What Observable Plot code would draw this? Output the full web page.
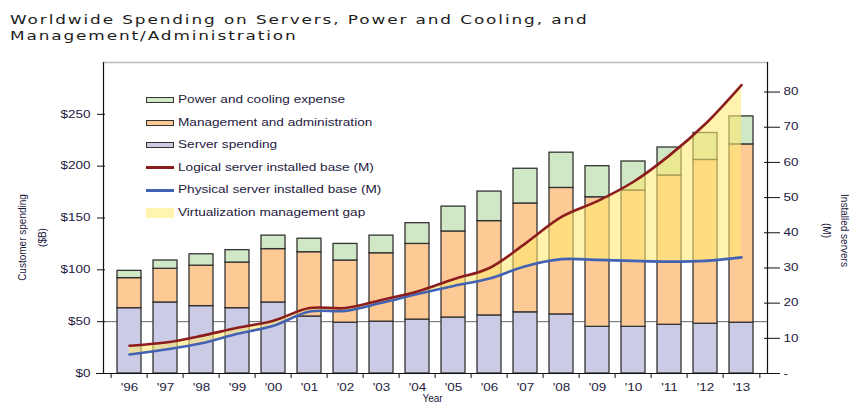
<!DOCTYPE html>
<html><head><meta charset="utf-8">
<script src="https://cdn.jsdelivr.net/npm/d3@7"></script>
<script src="https://cdn.jsdelivr.net/npm/@observablehq/plot@0.6"></script>
<style>
body{margin:0;background:#fff;width:851px;height:405px;overflow:hidden;position:relative;font-family:"Liberation Sans",Arial,sans-serif}
#title{position:absolute;left:10px;top:12px;font-family:"DejaVu Sans";font-size:12.5px;letter-spacing:1.4px;line-height:16px;color:#1c1c1c;transform:scaleX(1.35);transform-origin:0 0;white-space:nowrap}
#chart{position:absolute;left:0;top:50px}
#legend{position:absolute;left:146px;top:0;width:300px;height:240px}
.row{position:absolute;left:0;height:12px;width:300px}
.sw{position:absolute;left:0;box-sizing:border-box}
.lbl{position:absolute;left:32px;top:0;line-height:12px;font-size:10px;color:#1e2040;transform:scaleX(1.36);transform-origin:0 50%;white-space:nowrap}
</style>
</head><body>
<div id="title"></div>
<div id="chart"></div>
<div id="legend"></div>
<script>
const titleLines = ["Worldwide Spending on Servers, Power and Cooling, and", "Management/Administration"];
const years = ["'96","'97","'98","'99","'00","'01","'02","'03","'04","'05","'06","'07","'08","'09","'10","'11","'12","'13"];
const serverSpending = [63,68.5,65,63,68.5,55,49,50,52,54,56,59,57,45,45,47,48,49];
const mgmtAdmin      = [29,32.5,39,44,51.5,62,60,66,73,83,91,105,122,125,131.5,144,158,172];
const powerCooling   = [7,8,11,12,13,13,16,17,20,24,28.5,33.5,34,30,28,27,26,27];
const logicalBase    = [7.9,8.8,10.7,13,15,18.6,18.6,20.9,23.3,26.8,30,37,44.5,49,54.5,62,71,82];
const physicalBase   = [5.4,6.8,8.6,11.3,13.6,17.6,17.8,20.1,22.6,24.9,27,30.5,32.5,32.3,32,31.8,32,33];
const leftTicks = [0,50,100,150,200,250];
const rightTicks = [0,10,20,30,40,50,60,70,80];
const barCats = ["Server spending","Management and administration","Power and cooling expense"];
const barColors = ["#cbcbe6","#fdca96","#d0e8c6"];
const yMax = 300, rightMax = 88.4;
const k = yMax / rightMax;

document.getElementById("title").innerHTML = titleLines.join("<br>");

const W = 851, H = 355, mT = 12, mB = 32, mL = 103, mR = 84;
const pIn = 0.32, pOut = 0.19;
const band = d3.scaleBand().domain(years).range([mL, W - mR]).paddingInner(pIn).paddingOuter(pOut);
const step = band.step();

const bars = years.flatMap((yr, i) => [
  {year: yr, cat: barCats[0], v: serverSpending[i]},
  {year: yr, cat: barCats[1], v: mgmtAdmin[i]},
  {year: yr, cat: barCats[2], v: powerCooling[i]}
]);
const lines = years.map((yr, i) => ({year: yr, logical: logicalBase[i] * k, physical: physicalBase[i] * k}));
const ink = "#1e2040";

const chart = Plot.plot({
  width: W, height: H, marginTop: mT, marginBottom: mB, marginLeft: mL, marginRight: mR,
  x: {domain: years, paddingInner: pIn, paddingOuter: pOut},
  y: {domain: [0, yMax]},
  color: {domain: barCats, range: barColors},
  style: {fontFamily: "Liberation Sans, Arial, sans-serif", fontSize: "10px", background: "white", color: ink},
  marks: [
    Plot.ruleY([50], {stroke: "#666", strokeWidth: 1}),
    Plot.barY(bars, {x: "year", y: "v", fill: "cat", stroke: "#333", strokeWidth: 1.3}),
    Plot.areaY(lines, {x: "year", y1: "physical", y2: "logical", fill: "#ffe870", fillOpacity: 0.58, curve: "catmull-rom"}),
    Plot.lineY(lines, {x: "year", y: "physical", stroke: "#4262b4", strokeWidth: 2.6, curve: "catmull-rom"}),
    Plot.lineY(lines, {x: "year", y: "logical", stroke: "#8c1d1d", strokeWidth: 2.6, curve: "catmull-rom"}),
    Plot.frame({anchor: "top", stroke: "#bbb", strokeWidth: 1.5}),
    Plot.frame({anchor: "left", stroke: "#111", strokeWidth: 1.2}),
    Plot.frame({anchor: "right", stroke: "#111", strokeWidth: 1.2}),
    Plot.ruleY([0], {stroke: "#111", strokeWidth: 1.2, insetLeft: -7, insetRight: -8}),
    Plot.ruleX(years, {x: d => d, dx: -step / 2, y1: 0, y2: 0, insetBottom: -5, stroke: "#111"}),
    Plot.ruleX([years[years.length - 1]], {x: d => d, dx: step / 2, y1: 0, y2: 0, insetBottom: -5, stroke: "#111"}),
    Plot.axisY(leftTicks, {anchor: "left", tickSize: 8, dx: 2, tickPadding: 7, tickFormat: d => "$" + d, fill: ink, stroke: "#111", label: null}),
    Plot.axisY(rightTicks.map(v => v * k), {anchor: "right", tickSize: 16, dx: -4, tickPadding: 4, tickFormat: d => { const v = Math.round(d / k); return v === 0 ? "-" : String(v); }, fill: ink, stroke: "#111", label: null}),
    Plot.axisX({tickSize: 0, tickPadding: 10, fill: ink, label: null}),
    Plot.text(["Customer spending"], {frameAnchor: "left", textAnchor: "middle", lineAnchor: "middle", rotate: -90, dx: -81, dy: 19.5, fill: ink, fontSize: 10}),
    Plot.text(["($B)"], {frameAnchor: "left", textAnchor: "middle", lineAnchor: "middle", rotate: -90, dx: -61, dy: 19.5, fill: ink, fontSize: 10}),
    Plot.text(["Installed servers"], {frameAnchor: "right", textAnchor: "middle", lineAnchor: "middle", rotate: 90, dx: 77, dy: 12.5, fill: ink, fontSize: 10}),
    Plot.text(["(M)"], {frameAnchor: "right", textAnchor: "middle", lineAnchor: "middle", rotate: 90, dx: 59, dy: 12.5, fill: ink, fontSize: 10}),
    Plot.text(["Year"], {frameAnchor: "bottom", lineAnchor: "middle", dx: -3, dy: 25.5, fill: ink, fontSize: 10, ariaLabel: "stretch"})
  ]
});
document.getElementById("chart").appendChild(chart);

d3.select(chart).selectAll('g[aria-label="y-axis tick label"] text, g[aria-label="x-axis tick label"] text, g[aria-label="stretch"] text')
  .each(function() {
    const t = this.getAttribute("transform") || "";
    this.setAttribute("transform", t + " scale(1.35,1)");
  });

// Legend
const legendItems = [
  {label: "Power and cooling expense", kind: "box", color: barColors[2]},
  {label: "Management and administration", kind: "box", color: barColors[1]},
  {label: "Server spending", kind: "box", color: barColors[0]},
  {label: "Logical server installed base (M)", kind: "line", color: "#8c1d1d"},
  {label: "Physical server installed base (M)", kind: "line", color: "#4262b4"},
  {label: "Virtualization management gap", kind: "area", color: "#fff4b0"}
];
const leg = document.getElementById("legend");
legendItems.forEach((it, i) => {
  const row = document.createElement("div");
  row.className = "row";
  row.style.top = (100 + i * 22.5 - 6) + "px";
  const sw = document.createElement("div");
  sw.className = "sw";
  sw.style.width = "28px";
  if (it.kind === "box") { sw.style.top = "3px"; sw.style.height = "6px"; sw.style.background = it.color; sw.style.border = "1.2px solid #333"; }
  else if (it.kind === "line") { sw.style.top = "4.5px"; sw.style.height = "3px"; sw.style.background = it.color; }
  else { sw.style.top = "1px"; sw.style.height = "10px"; sw.style.background = it.color; }
  const lb = document.createElement("div");
  lb.className = "lbl";
  lb.textContent = it.label;
  row.appendChild(sw); row.appendChild(lb);
  leg.appendChild(row);
});
</script>
</body></html>
